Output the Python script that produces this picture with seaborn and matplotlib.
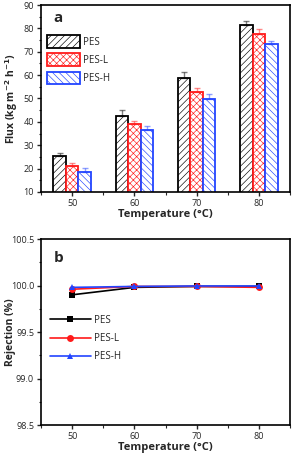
import pandas as pd
import seaborn as sns
import matplotlib.pyplot as plt
from matplotlib.ticker import MultipleLocator

# datos
temps = [50, 60, 70, 80]
series = ["PES", "PES-L", "PES-H"]
flux_pes = [25.5, 42.3, 58.7, 81.6]
flux_pesl = [21.2, 39.2, 52.6, 77.5]
flux_pesh = [18.6, 36.6, 49.8, 73.3]
err_pes = [1.2, 2.7, 2.8, 1.6]
err_pesl = [1.3, 1.1, 1.7, 2.1]
err_pesh = [1.8, 1.7, 2.2, 1.2]
rej_pes = [99.90, 99.98, 99.99, 99.99]
rej_pesl = [99.96, 99.99, 99.99, 99.98]
rej_pesh = [99.98, 99.99, 99.995, 99.995]

colors = {"PES": "black", "PES-L": "#ff1a1a", "PES-H": "#2244ff"}
hatches = {"PES": "/////", "PES-L": "xxxxx", "PES-H": "\\\\\\\\\\"}

df_flux = pd.DataFrame({
    "Temperature": temps * 3,
    "Flux": flux_pes + flux_pesl + flux_pesh,
    "err": err_pes + err_pesl + err_pesh,
    "Membrane": ["PES"] * 4 + ["PES-L"] * 4 + ["PES-H"] * 4,
})
df_rej = pd.DataFrame({
    "Temperature": temps * 3,
    "Rejection": rej_pes + rej_pesl + rej_pesh,
    "Membrane": ["PES"] * 4 + ["PES-L"] * 4 + ["PES-H"] * 4,
})

sns.set_style("ticks")
plt.rcParams['font.family'] = ['Open Sans', 'DejaVu Sans']
plt.rcParams['hatch.linewidth'] = 0.45
plt.rcParams['axes.linewidth'] = 1.2

fig = plt.figure(figsize=(2.93, 4.57), dpi=100)
ax1 = fig.add_axes([0.14, 0.580, 0.85, 0.409])
ax2 = fig.add_axes([0.14, 0.070, 0.85, 0.407])

# --- panel a: barras ---
sns.barplot(data=df_flux, x="Temperature", y="Flux", hue="Membrane",
            hue_order=series, width=0.6, errorbar=None, ax=ax1, legend=False)
bar_conts = list(ax1.containers)
for cont, name in zip(bar_conts, series):
    errs = df_flux[df_flux["Membrane"] == name]["err"].tolist()
    xs, ys = [], []
    for p in cont.patches:
        p.set_facecolor("white")
        p.set_edgecolor(colors[name])
        p.set_hatch(hatches[name])
        p.set_linewidth(1.3)
        xs.append(p.get_x() + p.get_width() / 2)
        ys.append(p.get_height())
    ax1.errorbar(xs, ys, yerr=[[0] * len(errs), errs], fmt="none",
                 ecolor=colors[name], alpha=0.5, elinewidth=1, capsize=2.5, capthick=1)

ax1.set_xlim(-0.5, 3.5)
ax1.set_ylim(10, 90)
ax1.yaxis.set_major_locator(MultipleLocator(10))
ax1.yaxis.set_minor_locator(MultipleLocator(5))
ax1.set_xticks([-0.5, 0.5, 1.5, 2.5, 3.5], minor=True)
ax1.set_xlabel("Temperature (°C)", fontsize=8, fontweight="bold", labelpad=1)
ax1.set_ylabel("Flux (kg m$^{\\mathbf{-2}}$ h$^{\\mathbf{-1}}$)", fontsize=7.5,
               fontweight="bold")
ax1.text(0.05, 0.93, "a", transform=ax1.transAxes, fontsize=11,
         fontweight="bold", va="center")
handles = [c.patches[0] for c in bar_conts]
ax1.legend(handles, series, loc="upper left", bbox_to_anchor=(0.0, 0.87),
           frameon=False, fontsize=7, handlelength=3.4, handleheight=1.6,
           labelspacing=0.6, handletextpad=0.3, borderaxespad=0.2)

# --- panel b: lineas ---
sns.lineplot(data=df_rej, x="Temperature", y="Rejection", hue="Membrane",
             hue_order=series, palette=colors, style="Membrane",
             markers={"PES": "s", "PES-L": "o", "PES-H": "^"}, dashes=False,
             markersize=5, markeredgewidth=0, linewidth=1.2, ax=ax2)
ax2.set_xlim(45, 85)
ax2.set_ylim(98.5, 100.5)
ax2.set_xticks(temps)
ax2.xaxis.set_minor_locator(MultipleLocator(5))
ax2.yaxis.set_major_locator(MultipleLocator(0.5))
ax2.yaxis.set_minor_locator(MultipleLocator(0.25))
ax2.yaxis.set_major_formatter(plt.FormatStrFormatter("%.1f"))
ax2.set_xlabel("Temperature (°C)", fontsize=8, fontweight="bold", labelpad=1)
ax2.set_ylabel("Rejection (%)", fontsize=7.5, fontweight="bold")
ax2.text(0.05, 0.9, "b", transform=ax2.transAxes, fontsize=11,
         fontweight="bold", va="center")
ax2.legend(loc="upper left", bbox_to_anchor=(0.0, 0.64), frameon=False,
           fontsize=7, handlelength=4.2, labelspacing=0.75, handletextpad=0.3,
           title=None)

for ax in (ax1, ax2):
    for s in ax.spines.values():
        s.set_visible(True)
        s.set_color("black")
    ax.tick_params(which="major", direction="out", length=3, width=1,
                   labelsize=6.5, pad=2, top=False, right=False)
    ax.tick_params(which="minor", direction="out", length=1.8, width=0.8,
                   top=False, right=False)
ax1.yaxis.set_label_coords(-0.085, 0.5)
ax2.yaxis.set_label_coords(-0.10, 0.5)

fig.savefig("out.png", dpi=100)
